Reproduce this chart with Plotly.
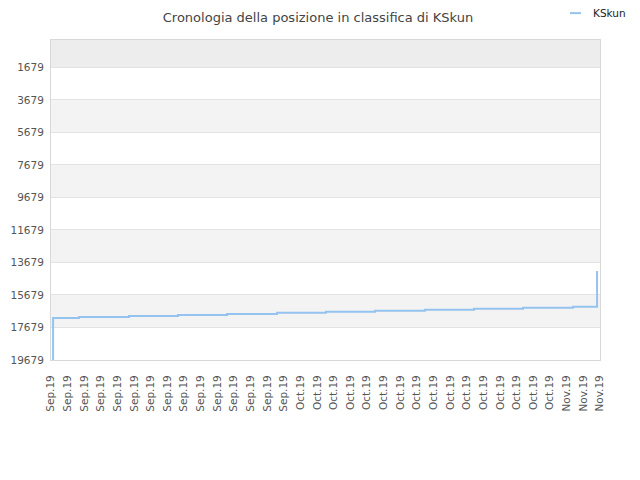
import plotly.graph_objects as go

# Data
dates = [
    "2019-09-01 06:00", "2019-09-01 06:00", "2019-09-04 09:00", "2019-09-10 09:00",
    "2019-09-16 06:30", "2019-09-22 04:00", "2019-09-28 04:00", "2019-10-04 01:30",
    "2019-10-09 23:00", "2019-10-15 23:00", "2019-10-21 20:30", "2019-10-27 18:00",
    "2019-11-02 18:00", "2019-11-05 15:30",
]
ranks = [19679, 17099, 17037, 16976, 16914, 16853, 16773, 16711,
         16650, 16589, 16527, 16466, 16405, 14211]
series_name = "KSkun"

y_ticks = [1679, 3679, 5679, 7679, 9679, 11679, 13679, 15679, 17679, 19679]
y_tick_labels = [str(v) for v in y_ticks]
x_range = ["2019-09-01", "2019-11-06"]
y_range = [19679, 0]

line_color = "#95c3ef"

fig = go.Figure()
fig.add_trace(go.Scatter(
    x=dates, y=ranks, mode="lines", name=series_name, showlegend=False,
    line=dict(color=line_color, width=2, shape="hv"),
))

shapes = [dict(type="rect", xref="paper", yref="y", x0=0, x1=1,
               y0=y_range[1], y1=y_ticks[0], fillcolor="#ededed",
               line_width=0, layer="below")]
for i in range(1, len(y_ticks) - 1, 2):
    shapes.append(dict(type="rect", xref="paper", yref="y", x0=0, x1=1,
                       y0=y_ticks[i], y1=y_ticks[i + 1], fillcolor="#f3f3f3",
                       line_width=0, layer="below"))
# legend marker (short line, as in the reference)
shapes.append(dict(type="line", xref="paper", yref="paper",
                   x0=0.9454, x1=0.9654, y0=1.084, y1=1.084,
                   line=dict(color=line_color, width=2)))

fig.update_layout(
    width=632, height=472,
    margin=dict(l=43, r=40, t=32, b=120),
    paper_bgcolor="white", plot_bgcolor="white",
    font=dict(family="DejaVu Sans", size=11, color="#555555"),
    title=dict(text="Cronologia della posizione in classifica di KSkun",
               x=0.4905, xanchor="center", y=0.99, yanchor="top",
               font=dict(size=13, color="#444444")),
    showlegend=False,
    shapes=shapes,
    annotations=[dict(text=series_name, xref="paper", yref="paper",
                      x=0.9836, xanchor="left", y=1.084, yanchor="middle",
                      showarrow=False, font=dict(size=10.5, color="#222222"))],
)
fig.update_xaxes(
    type="date", range=x_range, tick0="2019-09-01", dtick=2 * 86400000,
    tickformat="%b.%y", tickangle=-90, showgrid=False, automargin=False,
    showline=True, linecolor="#d8d8d8", mirror=True, ticks="",
    ticklabelstandoff=10,
    tickfont=dict(size=10.5, color="#555555"),
)
fig.update_yaxes(
    range=y_range, tickvals=y_ticks, ticktext=y_tick_labels,
    showgrid=True, gridcolor="#e3e3e3", automargin=False,
    showline=True, linecolor="#d8d8d8", mirror=True, zeroline=False,
    ticklabelstandoff=4,
    tickfont=dict(size=10.5, color="#555555"),
)

fig.write_html("out.html")
